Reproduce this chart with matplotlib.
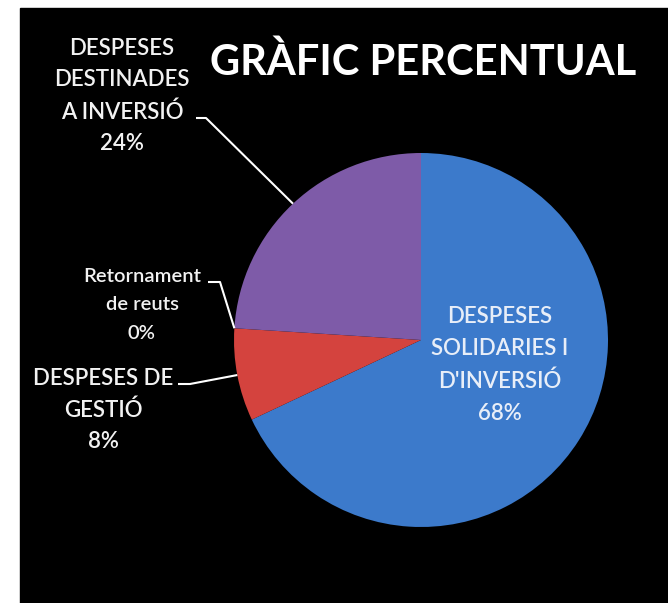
import numpy as np
import matplotlib.pyplot as plt
from matplotlib.patches import Rectangle

# dades del gràfic
labels = ["DESPESES\nSOLIDARIES I\nD'INVERSIÓ", "DESPESES DE\nGESTIÓ",
          "Retornament\nde reuts", "DESPESES\nDESTINADES\nA INVERSIÓ"]
percentages = [68, 8, 0, 24]
colors = ["#3c7acb", "#d4433e", "#c0504d", "#7e5ba8"]

W, H = 668, 603
fig = plt.figure(figsize=(W / 100, H / 100), dpi=100)
fig.patch.set_facecolor("white")
ax = fig.add_axes([0, 0, 1, 1])

# fons negre
ax.add_patch(Rectangle((20, 0), W - 20, H - 8, color="black", zorder=0))

cx, cy, r = 421, H - 340, 187
wedges, _ = ax.pie(percentages, colors=colors, startangle=90, counterclock=False,
                   center=(cx, cy), radius=r, wedgeprops=dict(linewidth=0))
for w in wedges:
    w.set_zorder(2)
ax.set_xlim(0, W)
ax.set_ylim(0, H)
ax.set_aspect("equal")
ax.axis("off")

ax.text(423, H - 62, "GRÀFIC PERCENTUAL", color="white", fontsize=30,
        fontweight="bold", family="Lato", ha="center", va="center")

txt = dict(color="#f2f2f2", family="Lato", fontweight="semibold",
           ha="center", va="center")

def edge_point(w):
    a = np.deg2rad((w.theta1 + w.theta2) / 2)
    return cx + r * np.cos(a), cy + r * np.sin(a)

# etiqueta dins del sector blau
ax.text(500, H - 365, labels[0] + "\n%d%%" % percentages[0], fontsize=16,
        color="#e8eef8", family="Lato", fontweight="semibold", ha="center",
        va="center", linespacing=1.65, zorder=3)

# etiquetes de fora amb línia guia
ax.text(103, H - 410, labels[1] + "\n%d%%" % percentages[1], fontsize=16,
        linespacing=1.62, **txt)
ax.text(142, H - 305, labels[2] + "\n%d%%" % percentages[2], fontsize=14.5,
        linespacing=1.8, **txt)
ax.text(122, H - 96, labels[3] + "\n%d%%" % percentages[3], fontsize=16,
        linespacing=1.62, **txt)

guides = [(1, (178, H - 384), (190, H - 384)),
          (2, (208, H - 282), (220, H - 282)),
          (3, (196, H - 118), (206, H - 118))]
for i, p0, p1 in guides:
    ex, ey = edge_point(wedges[i])
    ax.plot([p0[0], p1[0], ex], [p0[1], p1[1], ey], color="white", lw=1.5, zorder=3,
            solid_capstyle="butt")

fig.savefig("out.png", dpi=100, facecolor="white")
